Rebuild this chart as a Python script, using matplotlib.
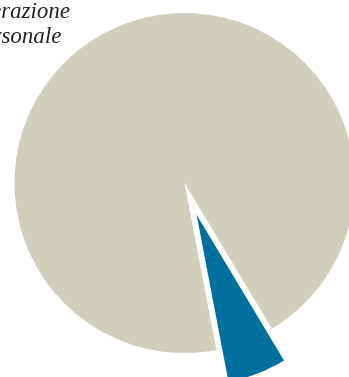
import matplotlib
matplotlib.use('Agg')
import matplotlib.pyplot as plt

# dati
labels = ['Altro', 'Generazione personale']
values = [5.6, 94.4]
colors = ['#00709f', '#d1cfbb']
explode = [0.2, 0.0]

W, H = 349, 377
fig = plt.figure(figsize=(W / 100, H / 100), dpi=100)
ax = fig.add_axes([0, 0, 1, 1])

ax.pie(values, colors=colors, explode=explode, startangle=-79.2,
       counterclock=True, radius=1.0,
       wedgeprops={'linewidth': 0})

# pixel -> coordinate dati (centro 184.5, 183, raggio 170 px)
cx, cy, r = 184.5, 183.0, 170.0
ax.set_xlim((0 - cx) / r, (W - cx) / r)
ax.set_ylim(-(H - cy) / r, cy / r)
ax.set_aspect('auto')
ax.axis('off')

# etichetta tagliata in alto a sinistra
fig.text(71 / W, 1 - 18 / H, 'Generazione', ha='right', va='baseline',
         fontsize=16.5, style='italic', family='Liberation Serif', color='#222222')
fig.text(62 / W, 1 - 43 / H, 'personale', ha='right', va='baseline',
         fontsize=16.5, style='italic', family='Liberation Serif', color='#222222')

fig.savefig('out.png', dpi=100)
